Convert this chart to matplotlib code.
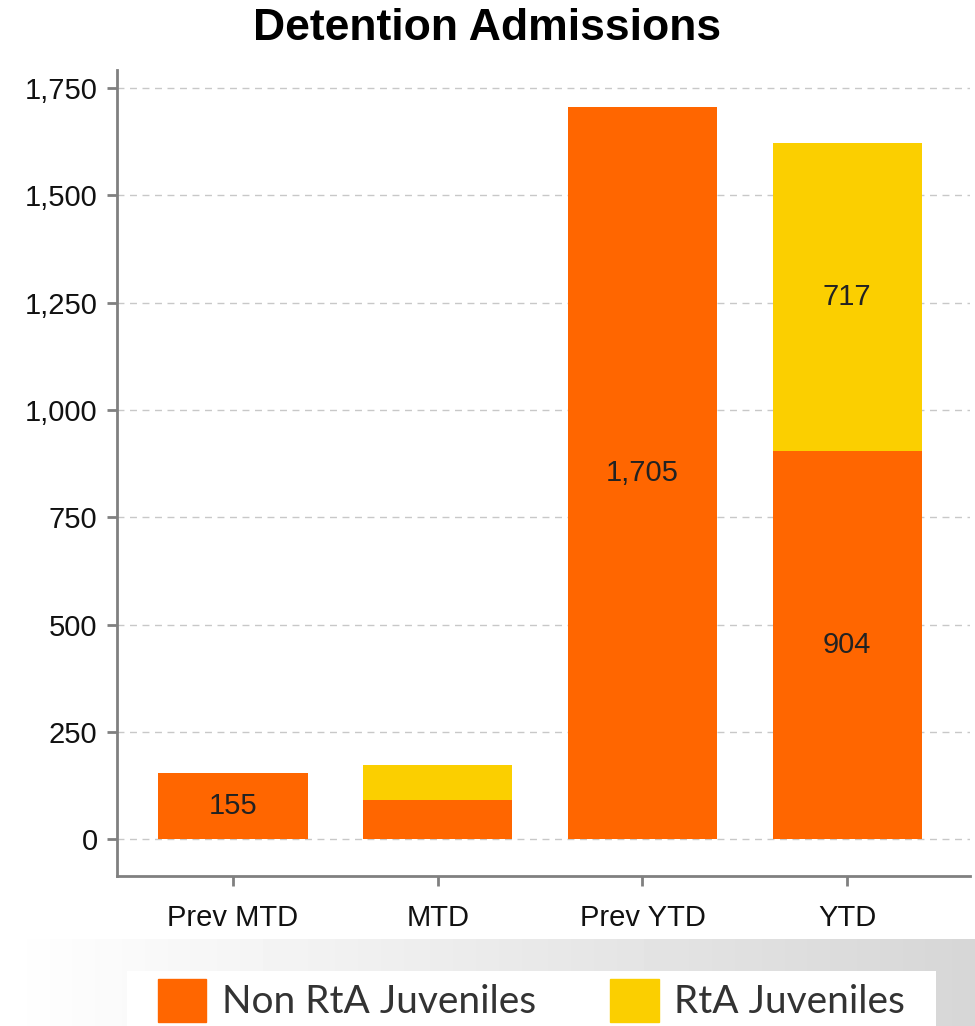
import numpy as np
import matplotlib.pyplot as plt
from matplotlib.patches import Patch

categories = ["Prev MTD", "MTD", "Prev YTD", "YTD"]
non_rta = [155, 91, 1705, 904]
rta = [0, 83, 0, 717]
labels_non = ["155", "", "1,705", "904"]
labels_rta = ["", "", "", "717"]
yticks = [0, 250, 500, 750, 1000, 1250, 1500, 1750]

orange = "#FF6600"
yellow = "#FBCF00"

plt.rcParams['font.family'] = ['Liberation Sans', 'DejaVu Sans']

fig = plt.figure(figsize=(9.75, 10.26), dpi=100)

# gray gradient band behind the legend
bg = fig.add_axes([0, 0, 1, 0.085], zorder=0)
grad = np.linspace(1.0, 0.84, 256).reshape(1, -1)
bg.imshow(grad, aspect="auto", cmap="gray", vmin=0, vmax=1, extent=[0, 1, 0, 1])
bg.add_patch(plt.Rectangle((0.13, 0.0), 0.83, 0.63, color="white", lw=0))
bg.set_xlim(0, 1)
bg.set_ylim(0, 1)
bg.axis("off")

ax = fig.add_axes([0.12, 0.146, 0.875, 0.786])
x = np.arange(len(categories))
w = 0.73
b1 = ax.bar(x, non_rta, w, color=orange, zorder=2)
b2 = ax.bar(x, rta, w, bottom=non_rta, color=yellow, zorder=2)
ax.bar_label(b1, labels=labels_non, label_type="center", fontsize=21, color="#222222")
ax.bar_label(b2, labels=labels_rta, label_type="center", fontsize=21, color="#222222")

ax.set_xlim(-0.566, 3.6)
ax.set_ylim(-86, 1792)
ax.set_xticks(x)
ax.set_xticklabels(categories, fontsize=21)
ax.set_yticks(yticks)
ax.set_yticklabels([f"{v:,}" for v in yticks], fontsize=21)
ax.yaxis.grid(True, linestyle=(0, (5, 4)), color="#c8c8c8", lw=1, zorder=0)
for s in ["top", "right"]:
    ax.spines[s].set_visible(False)
for s in ["left", "bottom"]:
    ax.spines[s].set_color("#808080")
    ax.spines[s].set_linewidth(2)
ax.tick_params(axis="both", color="#808080", width=2, length=7, pad=7, labelcolor="#111111")
ax.tick_params(axis="x", pad=13)

fig.text(0.5, 0.972, "Detention Admissions", ha="center", va="center",
         fontsize=32, fontweight="bold")

handles = [Patch(color=orange), Patch(color=yellow)]
fig.legend(handles, ["Non RtA Juveniles", "RtA Juveniles"], loc="center",
           bbox_to_anchor=(0.545, 0.025), ncol=2, frameon=False,
           prop={"family": "Lato", "size": 28}, labelcolor="#333333",
           handlelength=1.25, handleheight=1.3, handletextpad=0.4, columnspacing=1.9)

fig.savefig("out.png", dpi=100)
